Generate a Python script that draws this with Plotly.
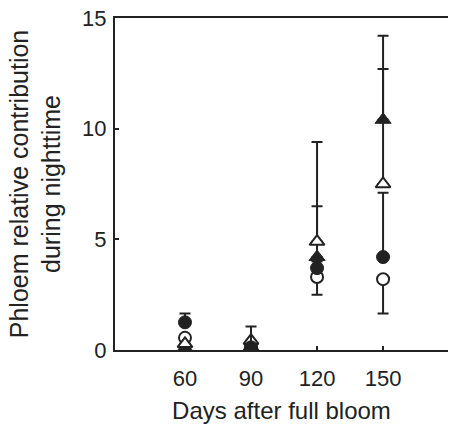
import plotly.graph_objects as go

days = [60, 90, 120, 150]

filled_circle = [1.25, 0.12, 3.7, 4.2]
filled_circle_up = [0.4, 0.94, 0.3, 2.9]

open_circle = [0.55, 0.1, 3.3, 3.2]
open_circle_down = [0.0, 0.0, 0.8, 1.55]

filled_triangle = [0.1, 0.15, 4.2, 10.4]
filled_triangle_up = [0.0, 0.0, 5.2, 3.8]

open_triangle = [0.28, 0.42, 4.9, 7.5]
open_triangle_up = [0.0, 0.0, 1.6, 5.2]

x_ticks = [60, 90, 120, 150]
y_ticks = [0, 5, 10, 15]

INK = "#222222"
zeros = [0, 0, 0, 0]


def eb(up, down):
    return dict(type="data", symmetric=False, array=up, arrayminus=down,
                color=INK, thickness=2, width=5.5)


fig = go.Figure()
fig.add_trace(go.Scatter(
    x=days, y=filled_triangle, mode="markers",
    marker=dict(symbol="triangle-up", size=14, color=INK, line=dict(color=INK, width=1)),
    error_y=eb(filled_triangle_up, zeros)))
fig.add_trace(go.Scatter(
    x=days, y=open_circle, mode="markers",
    marker=dict(symbol="circle", size=12, color="white", line=dict(color=INK, width=2)),
    error_y=eb(zeros, open_circle_down)))
fig.add_trace(go.Scatter(
    x=days, y=open_triangle, mode="markers",
    marker=dict(symbol="triangle-up", size=13, color="white", line=dict(color=INK, width=2)),
    error_y=eb(open_triangle_up, zeros)))
fig.add_trace(go.Scatter(
    x=days, y=filled_circle, mode="markers",
    marker=dict(symbol="circle", size=13, color=INK, line=dict(color=INK, width=1)),
    error_y=eb(filled_circle_up, zeros)))

FONT = "Liberation Sans, Arial, sans-serif"

fig.update_layout(
    width=450, height=425,
    margin=dict(l=115, r=2, t=18, b=75),
    paper_bgcolor="white", plot_bgcolor="white",
    showlegend=False,
    font=dict(family=FONT, size=21, color=INK),
    xaxis=dict(
        range=[28.2, 179.5], tickvals=x_ticks, ticktext=[str(v) for v in x_ticks],
        showline=True, linecolor=INK, linewidth=2, mirror=True,
        ticks="inside", ticklen=4, tickwidth=2, tickcolor=INK,
        showgrid=False, zeroline=False,
        tickfont=dict(size=22), ticklabelstandoff=8,
        title=dict(text="Days after full bloom", font=dict(size=24), standoff=12),
    ),
    yaxis=dict(
        range=[0, 15], tickvals=y_ticks, ticktext=[str(v) for v in y_ticks],
        showline=True, linecolor=INK, linewidth=2, mirror=False,
        ticks="inside", ticklen=4, tickwidth=2, tickcolor=INK,
        showgrid=False, zeroline=False,
        tickfont=dict(size=22), ticklabelstandoff=2,
        title=dict(text="Phloem relative contribution<br>during nighttime",
                   font=dict(size=25), standoff=14),
    ),
)

fig.write_html("out.html")
